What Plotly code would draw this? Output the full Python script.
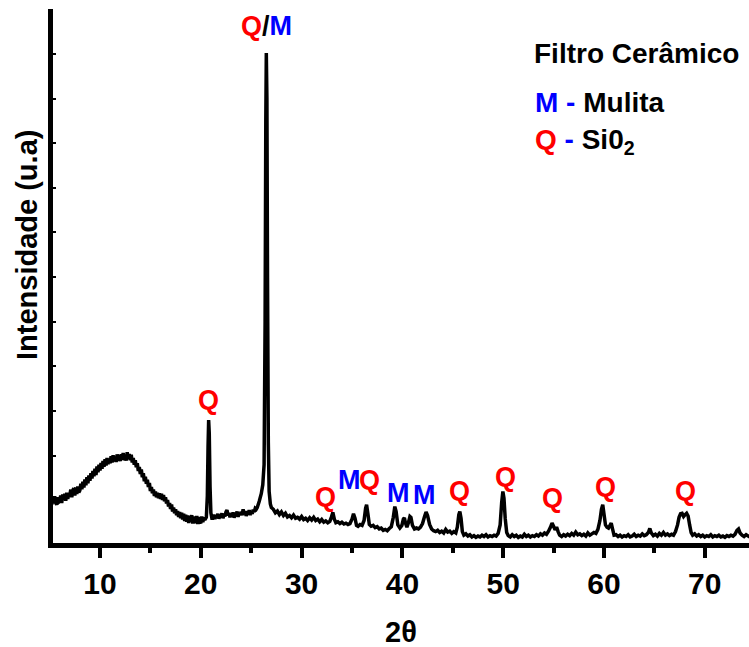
import plotly.graph_objects as go

# ---- XRD pattern ----
two_theta = [
    5.0, 5.1, 5.2, 5.3, 5.4, 5.5, 5.6, 5.7, 5.8, 5.9,
    6.0, 6.1, 6.2, 6.3, 6.4, 6.5, 6.6, 6.7, 6.8, 6.9,
    7.0, 7.1, 7.2, 7.3, 7.4, 7.5, 7.6, 7.7, 7.8, 7.9,
    8.0, 8.1, 8.2, 8.3, 8.4, 8.5, 8.6, 8.7, 8.8, 8.9,
    9.0, 9.1, 9.2, 9.3, 9.4, 9.5, 9.6, 9.7, 9.8, 9.9,
    10.0, 10.1, 10.2, 10.3, 10.4, 10.5, 10.6, 10.7, 10.8, 10.9,
    11.0, 11.1, 11.2, 11.3, 11.4, 11.5, 11.6, 11.7, 11.8, 11.9,
    12.0, 12.1, 12.2, 12.3, 12.4, 12.5, 12.6, 12.7, 12.8, 12.9,
    13.0, 13.1, 13.2, 13.3, 13.4, 13.5, 13.6, 13.7, 13.8, 13.9,
    14.0, 14.1, 14.2, 14.3, 14.4, 14.5, 14.6, 14.7, 14.8, 14.9,
    15.0, 15.1, 15.2, 15.3, 15.4, 15.5, 15.6, 15.7, 15.8, 15.9,
    16.0, 16.1, 16.2, 16.3, 16.4, 16.5, 16.6, 16.7, 16.8, 16.9,
    17.0, 17.1, 17.2, 17.3, 17.4, 17.5, 17.6, 17.7, 17.8, 17.9,
    18.0, 18.1, 18.2, 18.3, 18.4, 18.5, 18.6, 18.7, 18.8, 18.9,
    19.0, 19.1, 19.2, 19.3, 19.4, 19.5, 19.6, 19.7, 19.8, 19.9,
    20.0, 20.1, 20.2, 20.3, 20.4,
    20.55, 20.65, 20.72, 20.78, 20.84, 20.92, 21.0, 21.1,
    21.2, 21.3, 21.4, 21.5, 21.6, 21.7, 21.8, 21.9,
    22.0, 22.1, 22.2, 22.3, 22.4, 22.5, 22.6, 22.7, 22.8, 22.9,
    23.0, 23.1, 23.2, 23.3, 23.4, 23.5, 23.6, 23.7, 23.8, 23.9,
    24.0, 24.1, 24.2, 24.3, 24.4, 24.5, 24.6, 24.7, 24.8, 24.9,
    25.0, 25.1, 25.2, 25.3, 25.4, 25.5,
    25.6, 25.8, 26.0, 26.15, 26.28,
    26.38, 26.45, 26.5, 26.56, 26.62, 26.7, 26.78, 26.9, 27.0,
    27.2, 27.4, 27.6, 27.8, 28.0, 28.2, 28.4, 28.6, 28.8, 29.0, 29.2, 29.4, 29.6, 29.8,
    30.0, 30.2, 30.4, 30.6, 30.8, 31.0, 31.2, 31.4, 31.6, 31.8, 32.0, 32.2, 32.4, 32.6,
    32.8, 32.95, 33.1, 33.25, 33.4, 33.6, 33.8, 34.0, 34.2, 34.4, 34.6, 34.8, 35.0,
    35.15, 35.3, 35.45, 35.6, 35.8, 36.0, 36.2, 36.35, 36.45, 36.58, 36.72, 36.9, 37.1,
    37.3, 37.5, 37.7, 37.9, 38.1, 38.3, 38.5, 38.7, 38.9, 39.1, 39.25, 39.38, 39.55,
    39.75, 39.95, 40.1, 40.2, 40.3, 40.45, 40.6, 40.75, 40.85, 41.0, 41.2, 41.4, 41.6,
    41.8, 42.0, 42.2, 42.35, 42.5, 42.7, 42.9, 43.1, 43.3, 43.5, 43.7, 43.9, 44.1, 44.3,
    44.5, 44.7, 44.9, 45.1, 45.3, 45.45, 45.6, 45.7, 45.82, 45.95, 46.1, 46.3, 46.5,
    46.7, 46.9, 47.1, 47.3, 47.5, 47.7, 47.9, 48.1, 48.3, 48.5, 48.7, 48.9, 49.1, 49.3,
    49.5, 49.7, 49.85, 49.97, 50.08, 50.2, 50.35, 50.5, 50.7, 50.9, 51.1, 51.3, 51.5,
    51.7, 51.9, 52.1, 52.3, 52.5, 52.7, 52.9, 53.1, 53.3, 53.5, 53.7, 53.9, 54.1, 54.3,
    54.5, 54.7, 54.85, 55.0, 55.15, 55.3, 55.45, 55.6, 55.8, 56.0, 56.2, 56.4, 56.6,
    56.8, 57.0, 57.2, 57.4, 57.6, 57.8, 58.0, 58.2, 58.4, 58.6, 58.8, 59.0, 59.2, 59.4,
    59.6, 59.75, 59.88, 60.0, 60.15, 60.3, 60.45, 60.6, 60.72, 60.85, 61.0, 61.2, 61.4,
    61.6, 61.8, 62.0, 62.2, 62.4, 62.6, 62.8, 63.0, 63.2, 63.4, 63.6, 63.8, 64.0, 64.2,
    64.4, 64.55, 64.7, 64.9, 65.1, 65.3, 65.5, 65.7, 65.9, 66.1, 66.3, 66.5, 66.7, 66.9,
    67.1, 67.3, 67.45, 67.6, 67.75, 67.9, 68.05, 68.2, 68.35, 68.5, 68.65, 68.8, 69.0,
    69.2, 69.4, 69.6, 69.8, 70.0, 70.2, 70.4, 70.6, 70.8, 71.0, 71.2, 71.4, 71.6, 71.8,
    72.0, 72.2, 72.4, 72.6, 72.8, 73.0, 73.2, 73.35, 73.5, 73.7, 73.9, 74.1, 74.3, 74.5,
]
intensity = [
    92, 107, 90, 104, 93, 109, 95, 90, 107, 96,
    98, 111, 94, 113, 101, 115, 99, 117, 103, 114,
    110, 124, 107, 122, 127, 111, 129, 114, 131, 118,
    122, 137, 125, 142, 129, 147, 134, 152, 138, 156,
    144, 161, 149, 166, 154, 171, 157, 176, 163, 180,
    167, 184, 171, 188, 175, 192, 178, 195, 181, 193,
    183, 199, 185, 201, 187, 198, 186, 203, 189, 201,
    188, 203, 191, 206, 190, 202, 189, 208, 193, 204,
    190, 202, 185, 195, 180, 190, 174, 183, 166, 175,
    159, 169, 152, 161, 143, 153, 137, 146, 130, 139,
    121, 130, 116, 124, 110, 120, 107, 117, 105, 116,
    103, 115, 101, 112, 98, 107, 93, 101, 86, 94,
    81, 91, 75, 84, 71, 80, 67, 76, 63, 74,
    60, 72, 57, 70, 54, 68, 52, 66, 49, 65,
    52, 67, 48, 64, 53, 50, 65, 47, 63, 52,
    49, 64, 51, 62, 56,
    62, 110, 220, 280, 250, 130, 72, 60,
    60, 68, 58, 66, 61, 70, 59, 67,
    63, 71, 60, 69, 64, 74, 78, 66, 72, 62,
    70, 64, 73, 61, 69, 66, 75, 63, 71, 68,
    74, 67, 80, 69, 76, 65, 73, 70, 78, 67,
    75, 70, 79, 74, 82, 80,
    84, 98, 115, 135, 180,
    500, 950, 1102, 1000, 600, 230, 120, 92, 84,
    80, 72, 76, 68, 74, 66, 71, 63, 66, 61, 67, 60, 62, 58,
    64, 57, 60, 55, 61, 56, 62, 55, 58, 52, 57, 51, 54, 50,
    53, 62, 73, 58, 50, 52, 48, 51, 47, 49, 46, 48, 58,
    70, 60, 44, 42, 46, 44, 55, 82, 90, 70, 46, 42, 44,
    39, 41, 36, 38, 33, 35, 32, 37, 41, 62, 86, 75, 45,
    38, 44, 58, 61, 50, 40, 50, 64, 62, 44, 36, 38, 36,
    40, 48, 64, 74, 66, 46, 36, 32, 30, 33, 28, 31, 27, 35,
    29, 31, 26, 30, 27, 40, 68, 75, 60, 30, 22, 25, 20,
    23, 18, 21, 17, 20, 18, 22, 19, 23, 18, 21, 19, 22, 20,
    26, 45, 95, 120, 105, 60, 28, 21, 18, 23, 19, 22, 17,
    20, 18, 24, 19, 22, 18, 21, 19, 23, 20, 25, 22, 27, 24,
    31, 40, 49, 42, 34, 40, 30, 22, 19, 23, 20, 24, 21,
    26, 22, 29, 23, 25, 21, 24, 20, 27, 22, 25, 28, 26, 35,
    55, 80, 90, 70, 45, 40, 38, 44, 49, 36, 22, 23, 19,
    22, 18, 21, 19, 23, 18, 20, 24, 19, 22, 20, 25, 21, 23,
    28, 37, 27, 21, 24, 20, 26, 22, 28, 22, 25, 21, 24, 22,
    30, 45, 62, 70, 71, 64, 68, 71, 65, 45, 28, 22, 25,
    20, 23, 19, 22, 18, 21, 19, 23, 18, 21, 19, 22, 18, 20,
    17, 21, 19, 22, 20, 24, 33, 36, 27, 22, 19, 23, 20, 18,
]

# ---- phase labels over the peaks ----
RED = "#FF0000"
BLUE = "#0000FF"
label_text = ["Q/M", "Q", "Q", "M", "Q", "M", "M", "Q", "Q", "Q", "Q", "Q"]
label_x = [26.47, 20.72, 32.4, 34.76, 36.75, 39.6, 42.24, 45.68, 50.28, 54.85, 60.2, 68.04]
label_y = [1163, 325, 108, 146, 146, 116, 112, 121, 152, 105, 130, 121]

# ---- key ----
key_title = "Filtro Cerâmico"
key_lines = [("M", BLUE, "Mulita"), ("Q", RED, "Si0<sub>2</sub>")]

x_title = "2θ"
y_title = "Intensidade (u.a)"

FONT = "Liberation Sans, Arial, sans-serif"

fig = go.Figure()
fig.add_trace(go.Scatter(x=two_theta, y=intensity, mode="lines",
                         line=dict(color="black", width=3.5, simplify=False),
                         showlegend=False, hoverinfo="skip"))

def colored(t):
    if t == "Q/M":
        return f"<span style='color:{RED}'>Q</span>/<span style='color:{BLUE}'>M</span>"
    return f"<span style='color:{RED if t == 'Q' else BLUE}'>{t}</span>"

annots = []
for t, x, y in zip(label_text, label_x, label_y):
    annots.append(dict(x=x, y=y, xref="x", yref="y", text=colored(t), showarrow=False,
                       xanchor="center", yanchor="middle",
                       font=dict(family=FONT, size=27, color="black", weight="bold")))

annots.append(dict(x=0.688, y=0.9167, xref="paper", yref="paper", text=key_title,
                   showarrow=False, xanchor="left", yanchor="middle",
                   font=dict(family=FONT, size=28, color="black", weight="bold")))
key_y = [0.8258, 0.7528]
for (sym, col, name), ky in zip(key_lines, key_y):
    annots.append(dict(x=0.6897, y=ky, xref="paper", yref="paper",
                       text=f"<span style='color:{col}'>{sym}</span> <span style='color:{BLUE}'>-</span> {name}",
                       showarrow=False, xanchor="left", yanchor="middle",
                       font=dict(family=FONT, size=28, color="black", weight="bold")))

annots.append(dict(x=0.4993, y=-0.166, xref="paper", yref="paper", text=x_title,
                   showarrow=False, xanchor="center", yanchor="middle",
                   font=dict(family=FONT, size=29, color="black", weight="bold")))
annots.append(dict(x=-0.0374, y=0.558, xref="paper", yref="paper", text=y_title,
                   showarrow=False, xanchor="center", yanchor="middle", textangle=-90,
                   font=dict(family=FONT, size=29, color="black", weight="bold")))

fig.update_layout(
    width=749, height=647,
    margin=dict(l=53, r=0, t=9, b=104),
    paper_bgcolor="white", plot_bgcolor="white",
    annotations=annots,
    font=dict(family=FONT, color="black"),
)
fig.update_xaxes(
    range=[5.337, 74.39], showgrid=False, zeroline=False,
    showline=True, linecolor="black", linewidth=5,
    tickmode="linear", tick0=10, dtick=10,
    ticks="outside", ticklen=10, tickwidth=4, tickcolor="black",
    tickfont=dict(family=FONT, size=30, color="black", weight="bold"),
    minor=dict(tick0=5, dtick=5, ticks="outside", ticklen=5, tickwidth=4, tickcolor="black"),
)
fig.update_yaxes(
    range=[4.5, 1200.6], showgrid=False, zeroline=False,
    showline=True, linecolor="black", linewidth=5,
    tickmode="linear", tick0=0, dtick=100,
    ticks="inside", ticklen=3, tickwidth=2, tickcolor="black",
    showticklabels=False,
)

fig.write_html(
    "out.html",
    config={"displayModeBar": False},
    post_script="document.body.style.margin='0px';document.body.style.overflow='hidden';",
)
